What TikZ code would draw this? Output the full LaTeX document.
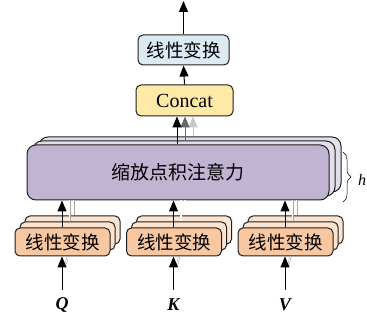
\documentclass[tikz,border=0pt]{standalone}
\usepackage{fontspec}
\setmainfont{Liberation Serif}
\newfontfamily\cjk{Noto Sans CJK SC}
\usetikzlibrary{arrows.meta,decorations.pathreplacing}
\definecolor{blueF}{HTML}{DCEAF2}
\definecolor{yelF}{HTML}{FEE9A6}
\definecolor{purF}{HTML}{C1B4D3}
\definecolor{purB}{HTML}{E4DEEC}
\definecolor{orF}{HTML}{F8C8A2}
\definecolor{orB}{HTML}{FDE4D1}
\definecolor{edge}{HTML}{1E1E1E}
\begin{document}
\begin{tikzpicture}[x=1pt,y=-1pt,
  box/.style={draw=edge,line width=1pt,rounded corners=5pt,inner sep=0pt,anchor=center},
  cjktext/.style={font=\cjk\fontsize{18.5}{20}\selectfont},
  arr/.style={line width=1pt,-{Triangle[length=11pt,width=9pt]}},
  ghost/.style={draw=gray!70,line width=0.4pt,double=white,double distance=1.2pt},
  lbl/.style={font=\fontsize{18}{20}\selectfont\bfseries\itshape,inner sep=0pt}
]
\useasboundingbox (0,0) rectangle (367,320);

% top linear box
\node[box,fill=blueF,minimum width=91pt,minimum height=30pt,cjktext] (top) at (183.5,50) {线性变换};
\node[box,fill=yelF,minimum width=97pt,minimum height=31pt,font=\fontsize{20}{22}\selectfont] (cc) at (184.5,100.5) {Concat};
\coordinate (out) at (183.5,1);
\draw[arr] (top.north) -- (out);
\draw[arr] (cc.north) -- (top.south);

% attention layers
\node[box,rounded corners=9pt,fill=purB,minimum width=302pt,minimum height=55pt] (att3) at (190,164.5) {};
\node[box,rounded corners=9pt,fill=purB,minimum width=302pt,minimum height=55pt] (att2) at (184,168.5) {};
\node[box,rounded corners=9pt,fill=purF,minimum width=302pt,minimum height=55pt,font=\cjk\fontsize{19}{21}\selectfont] (att) at (178,172.5) {缩放点积注意力};

% arrows into concat
\draw[arr,gray!45] (att3.north -| 193,0) coordinate (a3) -- (a3 |- cc.south);
\draw[arr,gray!80!black] (att2.north -| 185,0) coordinate (a2) -- (a2 |- cc.south);
\draw[arr] (att.north -| 177,0) coordinate (a1) -- (a1 |- cc.south);

% brace and h
\draw[line width=0.5pt,decorate,decoration={brace,amplitude=8pt}] (343,152) coordinate (bt) -- (343,202) coordinate (bb);
\node[font=\fontsize{16}{18}\selectfont\itshape,inner sep=0pt] (hh) at (362,180) {h};

% bottom linear boxes
\foreach \n/\cx/\lab in {q/62.5/Q,k/174/K,v/285.5/V}{
  \node[box,fill=orB,minimum width=95pt,minimum height=28pt] (\n3) at (\cx+10,230) {};
  \node[box,fill=orB,minimum width=95pt,minimum height=28pt] (\n2) at (\cx+5,236) {};
  \node[box,fill=orF,minimum width=95pt,minimum height=28pt,cjktext] (\n) at (\cx,242) {线性变换};
  \draw[ghost] (\n3.north -| \cx+11,0) coordinate (\n g3) -- (\n g3 |- att.south);
  \draw[ghost] (\n2.north -| \cx+7,0) coordinate (\n g2) -- (\n g2 |- att.south);
  \draw[arr] (\n.north -| \cx-0.5,0) coordinate (\n t) -- (\n t |- att.south);
  \node[lbl] (\n l) at (\cx-0.5,305) {\lab};
  \coordinate (\n s) at (\cx-0.5,290);
  \draw[gray!70,line width=0.4pt] (\cx+1.5,267) -- (\cx+4.5,256.5);
  \draw[gray!70,line width=0.4pt] (\cx+3,267) -- (\cx+6,256.5);
  \draw[arr] (\n s) -- (\n s |- \n.south);
}
\end{tikzpicture}
\end{document}
